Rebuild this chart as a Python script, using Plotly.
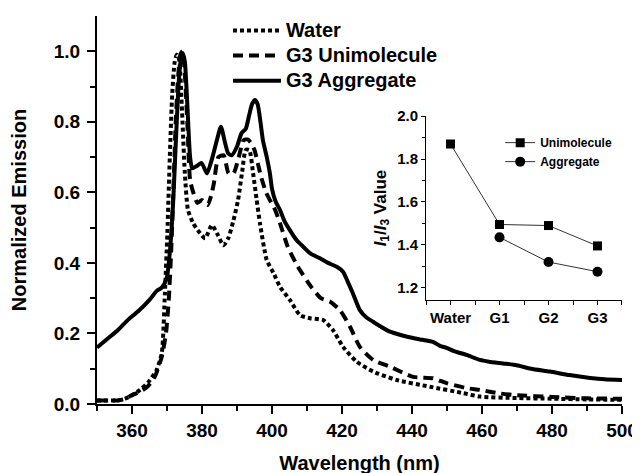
import plotly.graph_objects as go

# ---- main spectra ----
agg_x = [350, 353, 356, 359, 362, 365, 367, 368.5, 369.9, 370.9, 371.8, 372.6, 373.4, 374, 374.5,
         375.1, 375.8, 376.6, 377.2, 378.5, 379.9, 381.4, 383, 384.3, 385.4, 386.6, 387.5, 388.5,
         390, 391.3, 392.5, 393.5, 394.3, 395.1, 395.9, 396.7, 397.4, 398.5, 399.4, 400, 401,
         402.3, 403.5, 405.1, 407, 408.9, 410.9, 413.7, 416, 418.5, 420.3, 421.5, 423.1, 425.1,
         427, 428.9, 431, 433.7, 437, 440.3, 443, 446, 448, 449.9, 452, 455.6, 459.4, 462, 466,
         469.9, 474, 479.4, 485, 490.9, 495, 500]
agg_y = [0.16, 0.185, 0.21, 0.24, 0.265, 0.295, 0.32, 0.33, 0.356, 0.44, 0.58, 0.76, 0.92, 0.98, 0.995,
         0.97, 0.85, 0.70, 0.668, 0.675, 0.683, 0.654, 0.70, 0.75, 0.786, 0.74, 0.71, 0.705,
         0.73, 0.768, 0.78, 0.82, 0.85, 0.862, 0.85, 0.80, 0.748, 0.70, 0.654, 0.61, 0.575,
         0.55, 0.52, 0.493, 0.465, 0.446, 0.427, 0.413, 0.40, 0.389, 0.375, 0.35, 0.314, 0.266,
         0.245, 0.233, 0.22, 0.205, 0.195, 0.187, 0.182, 0.176, 0.165, 0.159, 0.15, 0.139, 0.125, 0.12, 0.115,
         0.11, 0.10, 0.092, 0.082, 0.074, 0.07, 0.068]

water_x = [350, 352, 354, 356, 358, 360, 362.3, 364.5, 367, 368.5, 369.4, 370.1, 370.8, 371.5, 372.2,
           372.8, 373.4, 374.2, 375.1, 376, 377.5, 379, 380.9, 382.8, 384.5, 386.1, 387.5, 389,
           390.3, 391.5, 392.5, 393.5, 394.6, 395.6, 396.6, 398.5, 400.5, 402.3, 405.1, 408,
           410.9, 414.6, 417.4, 420.3, 424.2, 428.9, 435.6, 445.1, 454.6, 459.4, 470, 480, 490, 500]
water_y = [0.01, 0.01, 0.01, 0.01, 0.015, 0.025, 0.04, 0.06, 0.096, 0.144, 0.314, 0.484, 0.70, 0.88, 0.97,
           0.99, 0.98, 0.85, 0.654, 0.55, 0.512, 0.49, 0.47, 0.507, 0.48, 0.45, 0.47, 0.521,
           0.578, 0.66, 0.72, 0.72, 0.654, 0.58, 0.51, 0.408, 0.37, 0.332, 0.295, 0.252,
           0.243, 0.238, 0.21, 0.162, 0.12, 0.092, 0.068, 0.049, 0.031, 0.021, 0.017, 0.015, 0.013, 0.012]

uni_x = [350, 353, 356, 358, 360, 362.3, 364.5, 366.5, 368.5, 369.7, 370.5, 371.2, 371.8, 372.5, 373.2,
         373.8, 374.4, 375, 375.8, 376.6, 377.5, 378.7, 380, 381.6, 382.6, 383.4, 384.7, 386.2,
         387.6, 389, 390.5, 391.9, 393, 394, 395, 396, 397, 398.3, 399.4, 400.9, 402.3, 404.5,
         407.4, 411.2, 414, 416.6, 419.4, 422.3, 425.1, 428.9, 433.7, 440.3, 446, 449.9, 455.6,
         459.4, 465, 470, 480, 490, 500]
uni_y = [0.01, 0.01, 0.01, 0.015, 0.025, 0.035, 0.05, 0.077, 0.134, 0.2, 0.295, 0.436, 0.6, 0.8, 0.93,
         0.99, 1.0, 0.95, 0.80, 0.635, 0.60, 0.57, 0.578, 0.564, 0.59, 0.626, 0.70, 0.705,
         0.654, 0.654, 0.70, 0.748, 0.75, 0.74, 0.72, 0.68, 0.64, 0.60, 0.578, 0.55, 0.512, 0.446,
         0.389, 0.332, 0.30, 0.29, 0.266, 0.219, 0.162, 0.125, 0.106, 0.077, 0.073, 0.059, 0.045,
         0.04, 0.03, 0.025, 0.02, 0.016, 0.015]

x_ticks = [360, 380, 400, 420, 440, 460, 480, 500]
y_ticks = [0.0, 0.2, 0.4, 0.6, 0.8, 1.0]

# ---- inset ----
inset_cats = ["Water", "G1", "G2", "G3"]
inset_uni = [1.87, 1.495, 1.49, 1.395]
inset_agg = [None, 1.435, 1.32, 1.275]
inset_y_ticks = [1.2, 1.4, 1.6, 1.8, 2.0]

FONT = "Arial, Liberation Sans, sans-serif"


def big(s):
    return "<span style='font-size:20px'><b>%s</b></span>" % s


fig = go.Figure()
fig.add_trace(go.Scatter(x=water_x, y=water_y, mode="lines", name=big("Water"),
                         line=dict(color="black", width=4, dash="4px,3px", shape="spline", smoothing=0.6)))
fig.add_trace(go.Scatter(x=uni_x, y=uni_y, mode="lines", name=big("G3 Unimolecule"),
                         line=dict(color="black", width=4, dash="10px,6px", shape="spline", smoothing=0.6)))
fig.add_trace(go.Scatter(x=agg_x, y=agg_y, mode="lines", name=big("G3 Aggregate"),
                         line=dict(color="black", width=4, shape="spline", smoothing=0.6)))

cat_pos = list(range(len(inset_cats)))
fig.add_trace(go.Scatter(x=cat_pos, y=inset_uni, mode="lines+markers", name="<b>Unimolecule</b>",
                         xaxis="x2", yaxis="y2", legend="legend2",
                         line=dict(color="#333", width=1),
                         marker=dict(symbol="square", size=9, color="black")))
fig.add_trace(go.Scatter(x=cat_pos, y=inset_agg, mode="lines+markers", name="<b>Aggregate</b>",
                         xaxis="x2", yaxis="y2", legend="legend2", connectgaps=False,
                         line=dict(color="#333", width=1),
                         marker=dict(symbol="circle", size=10, color="black")))

tf = dict(family=FONT, size=19, color="black")

# the page body adds an 8px offset; margins compensate so the plot area lands where the reference's is
fig.update_layout(
    width=640, height=473, autosize=False,
    margin=dict(l=89, r=26, t=8, b=77, autoexpand=False),
    paper_bgcolor="white", plot_bgcolor="white",
    font=dict(family=FONT, color="black"),
    xaxis=dict(range=[350, 500], tickvals=x_ticks, ticktext=["<b>%d</b>" % v for v in x_ticks],
               ticks="outside", ticklen=8, tickwidth=2, tickcolor="black", automargin=False,
               showline=True, linewidth=2, linecolor="black", showgrid=False, zeroline=False,
               layer="above traces", tickfont=tf,
               minor=dict(tickvals=[350, 370, 390, 410, 430, 450, 470, 490], ticks="outside",
                          ticklen=5, tickwidth=2, tickcolor="black"),
               title=dict(text="<b>Wavelength (nm)</b>", font=dict(family=FONT, size=20, color="black"),
                          standoff=16)),
    yaxis=dict(range=[0, 1.1], tickvals=y_ticks, ticktext=["<b>%.1f</b>" % v for v in y_ticks],
               ticks="outside", ticklen=8, tickwidth=2, tickcolor="black", automargin=False,
               showline=True, linewidth=2, linecolor="black", showgrid=False, zeroline=False,
               layer="above traces", tickfont=tf, ticklabelstandoff=3,
               minor=dict(tickvals=[0.1, 0.3, 0.5, 0.7, 0.9], ticks="outside", ticklen=5, tickwidth=2,
                          tickcolor="black"),
               title=dict(text="<b>Normalized Emission</b>", font=dict(family=FONT, size=20, color="black"),
                          standoff=22)),
    xaxis2=dict(domain=[0.6267, 1.0], anchor="y2", range=[-0.5, 3.5], automargin=False,
                tickvals=cat_pos, ticktext=["<b>%s</b>" % c for c in inset_cats],
                ticks="outside", ticklen=4, tickwidth=1, tickcolor="black",
                showline=True, linewidth=1, linecolor="black",
                showgrid=False, zeroline=False, tickfont=dict(family=FONT, size=15, color="black"),
                minor=dict(tickvals=[-0.5, 0.5, 1.5, 2.5, 3.5], ticks="outside", ticklen=4, tickwidth=1,
                           tickcolor="black")),
    yaxis2=dict(domain=[0.268, 0.742], anchor="x2", range=[1.143, 2.0], automargin=False,
                tickvals=inset_y_ticks, ticktext=["<b>%.1f</b>" % v for v in inset_y_ticks],
                ticks="outside", ticklen=4, tickwidth=1, tickcolor="black",
                showline=True, linewidth=1, linecolor="black", showgrid=False, zeroline=False,
                tickfont=dict(family=FONT, size=15, color="black"),
                minor=dict(tickvals=[1.3, 1.5, 1.7, 1.9], ticks="outside", ticklen=3, tickwidth=1,
                           tickcolor="black"),
                title=dict(text="<b><i>I</i><sub>1</sub>/<i>I</i><sub>3</sub> Value</b>",
                           font=dict(family=FONT, size=17, color="black"), standoff=6)),
    legend=dict(x=0.2495, y=1.008, xanchor="left", yanchor="top", bgcolor="rgba(0,0,0,0)",
                font=dict(family=FONT, size=17, color="black"), tracegroupgap=0, itemwidth=48),
    legend2=dict(x=0.768, y=0.711, xanchor="left", yanchor="top", bgcolor="rgba(0,0,0,0)",
                 font=dict(family=FONT, size=12, color="black"), itemwidth=30),
    showlegend=True,
)

fig.write_html("out.html")
